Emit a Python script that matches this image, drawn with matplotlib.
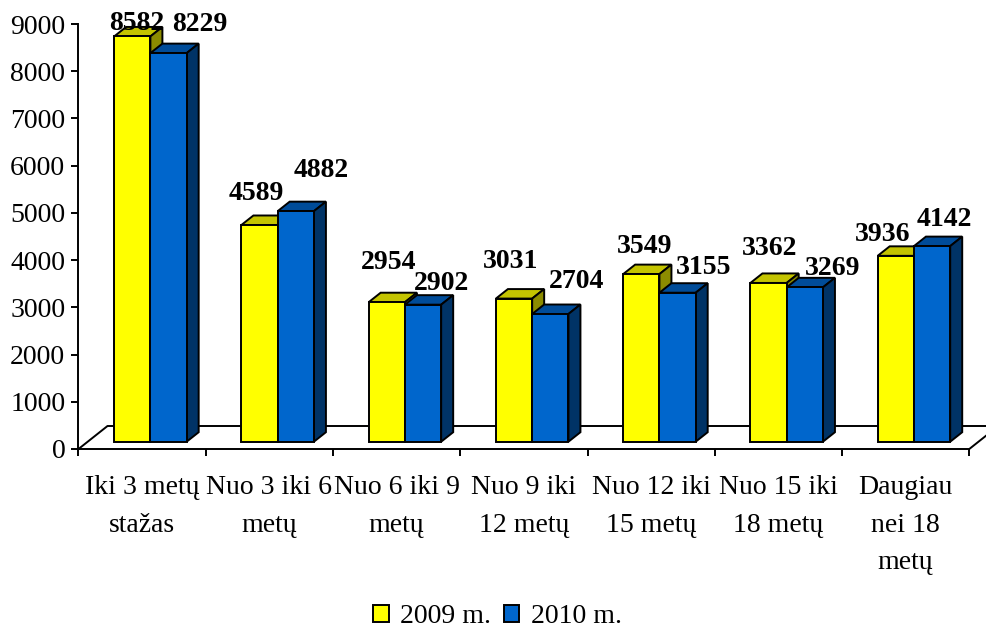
import matplotlib
matplotlib.use("Agg")
import matplotlib.pyplot as plt
from matplotlib.patches import Polygon, Patch

categories = ["Iki 3 metų\nstažas", "Nuo 3 iki 6\nmetų", "Nuo 6 iki 9\nmetų",
              "Nuo 9 iki\n12 metų", "Nuo 12 iki\n15 metų", "Nuo 15 iki\n18 metų",
              "Daugiau\nnei 18\nmetų"]
values_2009 = [8582, 4589, 2954, 3031, 3549, 3362, 3936]
values_2010 = [8229, 4882, 2902, 2704, 3155, 3269, 4142]
y_ticks = [0, 1000, 2000, 3000, 4000, 5000, 6000, 7000, 8000, 9000]
series_names = ["2009 m.", "2010 m."]

# label offsets from the top centre of each bar, in pixels
offsets_2009 = [(4, 13), (-3, 31), (2, 40), (-3, 37), (3.5, 28), (1, 34), (-13, 21)]
offsets_2010 = [(31, 29), (25, 41), (19, 21), (26, 33), (26, 25), (28, 19), (12, 27)]

W, H, DPI = 987, 630, 100
plt.rcParams["font.family"] = ["Liberation Serif", "DejaVu Serif"]
fig = plt.figure(figsize=(W / DPI, H / DPI), dpi=DPI, facecolor="white")
x0, x1, y_top, y_bot = 78.5, 969.3, 24, 449
ax = fig.add_axes([x0 / W, 1 - y_bot / H, (x1 - x0) / W, (y_bot - y_top) / H])
n = len(categories)
ax.set_xlim(0, n)
ax.set_ylim(0, 9000)

px_x = n / (x1 - x0)
px_y = 9000 / (y_bot - y_top)
lw = 1.4

# 3D floor
fdx, fdy = 29 * px_x, 23 * px_y
ax.plot([0, fdx, n + fdx], [0, fdy, fdy], color="black", lw=lw, clip_on=False, zorder=1, solid_capstyle="butt")
ax.plot([n, n + fdx], [0, fdy], color="black", lw=lw, clip_on=False, zorder=1, solid_capstyle="butt")

# 3D bars
base = 7.3 * px_y
ddx, ddy = 12 * px_x, 9.5 * px_y
bw = 0.285
start = 0.28
styles = [("#FFFF00", "#C4C400", "#8C8C00"), ("#0066CC", "#004C99", "#003366")]


def bar3d(x, v, cols, z):
    top = base + v
    ax.bar(x, v, bw, bottom=base, align="edge", facecolor=cols[0], edgecolor="black",
           linewidth=lw, zorder=z + 0.2, clip_on=False)
    ax.add_patch(Polygon([(x, top), (x + ddx, top + ddy), (x + bw + ddx, top + ddy), (x + bw, top)],
                         closed=True, facecolor=cols[1], edgecolor="black", linewidth=lw,
                         zorder=z, clip_on=False))
    ax.add_patch(Polygon([(x + bw, base), (x + bw + ddx, base + ddy), (x + bw + ddx, top + ddy), (x + bw, top)],
                         closed=True, facecolor=cols[2], edgecolor="black", linewidth=lw,
                         zorder=z, clip_on=False))


for i in range(n):
    bar3d(i + start, values_2009[i], styles[0], 2 + i)
    bar3d(i + start + bw, values_2010[i], styles[1], 2.5 + i)
    for v, xb, off in ((values_2009[i], i + start, offsets_2009[i]),
                       (values_2010[i], i + start + bw, offsets_2010[i])):
        ax.annotate(str(v), xy=(xb + bw / 2, base + v), xytext=off, textcoords="offset pixels",
                    ha="center", va="center", fontsize=20, fontweight="bold", color="black",
                    zorder=20, annotation_clip=False)

# axes
for s in ("top", "right"):
    ax.spines[s].set_visible(False)
for s in ("left", "bottom"):
    ax.spines[s].set_linewidth(lw)
    ax.spines[s].set_zorder(15)
ax.set_yticks(y_ticks)
ax.tick_params(axis="y", labelsize=20, length=5, width=lw, pad=4.5)
ax.set_xticks(range(n + 1))
ax.set_xticklabels([])
ax.tick_params(axis="x", which="major", length=5, width=lw)
ax.set_xticks([i + 0.5 for i in range(n)], minor=True)
ax.set_xticklabels(categories, minor=True, fontsize=20, linespacing=1.65)
ax.tick_params(axis="x", which="minor", length=0, pad=19)

# legend
handles = [Patch(facecolor=styles[0][0], edgecolor="black", linewidth=lw),
           Patch(facecolor=styles[1][0], edgecolor="black", linewidth=lw)]
fig.legend(handles, series_names, loc="center", bbox_to_anchor=(497.5 / W, 1 - 616.5 / H), ncol=2,
           frameon=False, fontsize=20, handlelength=0.55, handleheight=0.55, handletextpad=0.42,
           columnspacing=0.45, borderpad=0, borderaxespad=0)

fig.savefig("out.png", dpi=DPI, facecolor="white")
